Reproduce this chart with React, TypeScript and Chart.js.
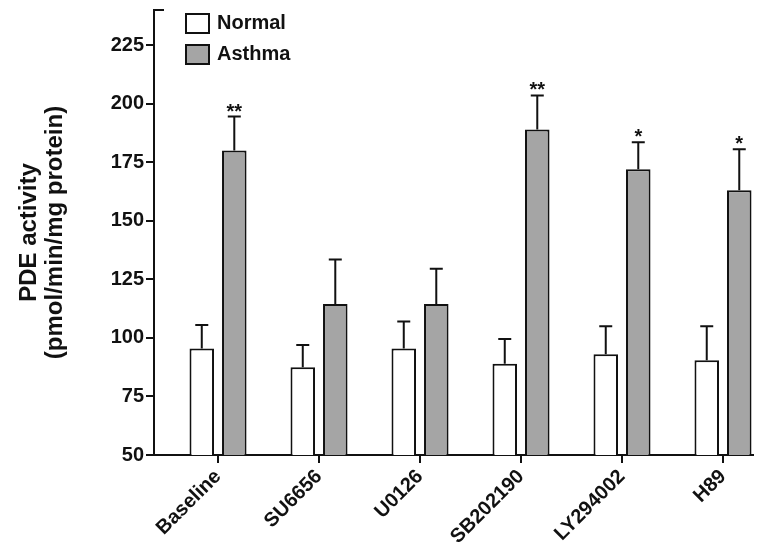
import React, { useEffect, useRef } from 'react';
import { Chart, registerables } from 'chart.js';

Chart.register(...registerables);

const categories = ['Baseline', 'SU6656', 'U0126', 'SB202190', 'LY294002', 'H89'];
const seriesLabels = ['Normal', 'Asthma'];
const normalValues = [95.5, 87.5, 95.5, 89, 93, 90.5];
const normalErrors = [10, 9.5, 11.5, 10.5, 12, 14.5];
const asthmaValues = [180, 114.5, 114.5, 189, 172, 163];
const asthmaErrors = [14.5, 19, 15, 14.5, 11.5, 17.5];
const asthmaMarks = ['**', '', '', '**', '*', '*'];
const yTicks = [50, 75, 100, 125, 150, 175, 200, 225];
const yTitle = ['PDE activity', '(pmol/min/mg protein)'];

const FONT = '"Liberation Sans", Arial, Helvetica, sans-serif';
const INK = '#111111';

const errorBarPlugin = {
  id: 'errorBars',
  afterDatasetsDraw(chart: any) {
    const ctx = chart.ctx;
    const ys = chart.scales.y;
    chart.data.datasets.forEach((ds: any, i: number) => {
      const meta = chart.getDatasetMeta(i);
      meta.data.forEach((bar: any, j: number) => {
        const v = ds.data[j].y;
        const top = ys.getPixelForValue(v);
        const cap = ys.getPixelForValue(v + ds.errors[j]);
        ctx.save();
        ctx.strokeStyle = INK;
        ctx.lineWidth = 2;
        ctx.beginPath();
        ctx.moveTo(bar.x, top);
        ctx.lineTo(bar.x, cap);
        ctx.moveTo(bar.x - 6.5, cap);
        ctx.lineTo(bar.x + 6.5, cap);
        ctx.stroke();
        if (ds.marks && ds.marks[j]) {
          ctx.fillStyle = INK;
          ctx.font = `bold 20px ${FONT}`;
          ctx.textAlign = 'center';
          ctx.textBaseline = 'alphabetic';
          ctx.fillText(ds.marks[j], bar.x, cap + 1);
        }
        ctx.restore();
      });
    });
  },
};

const legendPlugin = {
  id: 'insideLegend',
  afterDraw(chart: any) {
    const ctx = chart.ctx;
    const { left, top } = chart.chartArea;
    const ys = chart.scales.y;
    ctx.save();
    ctx.strokeStyle = INK;
    ctx.lineWidth = 2;
    ctx.beginPath();
    const yTop = ys.getPixelForValue(ys.max);
    ctx.moveTo(left - 1, yTop);
    ctx.lineTo(left + 10, yTop);
    ctx.stroke();
    chart.data.datasets.forEach((ds: any, i: number) => {
      const bx = left + 31;
      const by = top + 3 + i * 31;
      ctx.fillStyle = ds.backgroundColor;
      ctx.fillRect(bx, by, 25, 21);
      ctx.strokeStyle = INK;
      ctx.lineWidth = 2;
      ctx.strokeRect(bx + 1, by + 1, 23, 19);
      ctx.fillStyle = INK;
      ctx.font = `bold 20px ${FONT}`;
      ctx.textAlign = 'left';
      ctx.textBaseline = 'middle';
      ctx.fillText(ds.label, bx + 32, by + 10.5);
    });
    ctx.restore();
  },
};

export default function App() {
  const canvasRef = useRef<HTMLCanvasElement | null>(null);

  useEffect(() => {
    if (!canvasRef.current) return;
    const tickFont = { family: FONT, size: 20, weight: 'bold' as const };
    const chart = new Chart(canvasRef.current, {
      type: 'bar',
      data: {
        datasets: [
          {
            label: seriesLabels[0],
            data: categories.map((_, i) => ({ x: i, y: normalValues[i] })),
            backgroundColor: '#ffffff',
            borderColor: INK,
            borderWidth: 2,
            borderSkipped: false,
            categoryPercentage: 0.644,
            barPercentage: 0.754,
            errors: normalErrors,
          } as any,
          {
            label: seriesLabels[1],
            data: categories.map((_, i) => ({ x: i, y: asthmaValues[i] })),
            backgroundColor: '#a5a5a5',
            borderColor: INK,
            borderWidth: 2,
            borderSkipped: false,
            categoryPercentage: 0.644,
            barPercentage: 0.754,
            errors: asthmaErrors,
            marks: asthmaMarks,
          } as any,
        ],
      },
      options: {
        animation: false,
        responsive: true,
        maintainAspectRatio: false,
        layout: { padding: { left: 10, top: 10, right: 27, bottom: 0 } },
        plugins: {
          legend: { display: false },
          tooltip: { enabled: false },
        },
        scales: {
          x: {
            type: 'linear',
            offset: false,
            min: -0.634,
            max: 5.297,
            afterBuildTicks: (s: any) => {
              s.ticks = categories.map((_, i) => ({ value: i }));
            },
            afterFit: (s: any) => {
              s.height = 98;
              s.paddingLeft = 0;
              s.paddingRight = 0;
            },
            ticks: {
              autoSkip: false,
              minRotation: 45,
              maxRotation: 45,
              padding: 2,
              color: INK,
              font: tickFont,
              callback: (v: any) => categories[Math.round(v as number)],
            },
            grid: { offset: false, drawOnChartArea: false, drawTicks: true, tickLength: 8, color: INK, lineWidth: 2 },
            border: { display: true, color: INK, width: 2 },
          },
          y: {
            type: 'linear',
            min: 50,
            max: 240,
            afterBuildTicks: (s: any) => {
              s.ticks = yTicks.map((v) => ({ value: v }));
            },
            afterFit: (s: any) => {
              s.width = 144;
              s.paddingTop = 0;
              s.paddingBottom = 0;
            },
            ticks: { padding: 2, color: INK, font: tickFont },
            grid: { drawOnChartArea: false, drawTicks: true, tickLength: 8, color: INK, lineWidth: 2 },
            border: { display: true, color: INK, width: 2 },
            title: {
              display: true,
              text: yTitle,
              color: INK,
              font: { family: FONT, size: 24, weight: 'bold', lineHeight: 1.1 },
              padding: { top: 6, bottom: 0 },
            },
          },
        },
      } as any,
      plugins: [errorBarPlugin, legendPlugin],
    });
    return () => chart.destroy();
  }, []);

  return (
    <div style={{ position: 'fixed', left: 0, top: 0, width: 780, height: 553, background: '#fff' }}>
      <canvas ref={canvasRef} />
    </div>
  );
}
